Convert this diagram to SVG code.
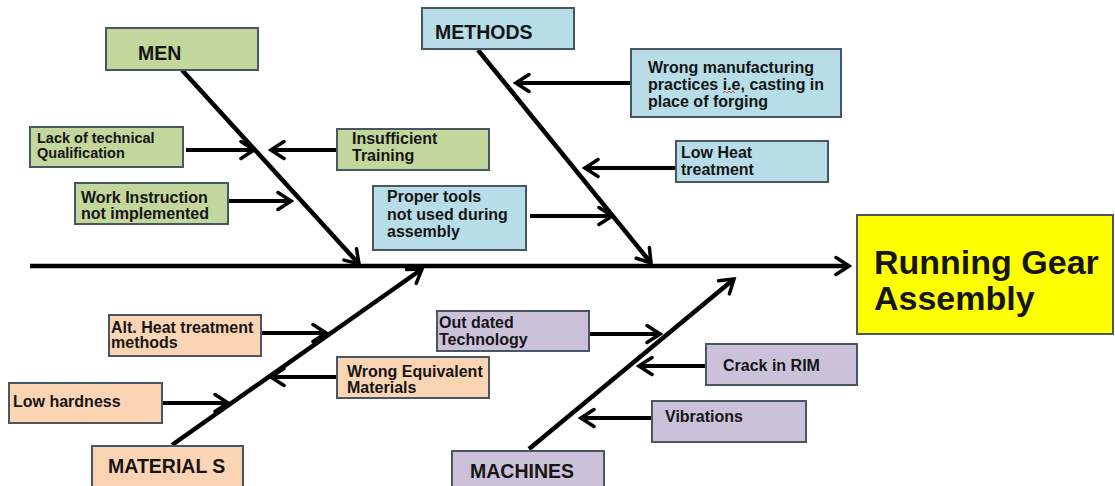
<svg xmlns="http://www.w3.org/2000/svg" width="1115" height="486" viewBox="0 0 1115 486">
<defs>
<style>
.box{stroke:#4a5763;stroke-width:2}
.g{fill:#c3d69b}.b{fill:#b7dde8}.o{fill:#fbd4b4}.p{fill:#ccc1da}.y{fill:#ffff00}
text{font-family:"Liberation Sans",Arial,sans-serif;font-weight:bold;fill:#151515}
.t{font-size:16px}
.h{font-size:19.5px}
.big{font-size:34px}
.c line{stroke:#000;stroke-width:4;marker-end:url(#ah)}
.c line.bone{stroke-width:4.5}
</style>
<marker id="ah" viewBox="-16 -11 19 22" refX="0" refY="0" markerWidth="19" markerHeight="22" markerUnits="userSpaceOnUse" orient="auto">
<path d="M-13,-8.5 L0,0 L-13,8.5" fill="none" stroke="#000" stroke-width="3.5" stroke-linecap="round" stroke-linejoin="miter"/>
</marker>
</defs>
<rect width="1115" height="486" fill="#fff"/>

<g id="connectors" class="c">
<line class="bone" x1="30" y1="266" x2="849" y2="266"/>
<line class="bone" x1="182" y1="70" x2="359" y2="264"/>
<line class="bone" x1="478" y1="50" x2="651" y2="263"/>
<line class="bone" x1="172" y1="445" x2="422" y2="269"/>
<line class="bone" x1="529" y1="449" x2="734" y2="279"/>
<line x1="186" y1="150" x2="254" y2="150"/>
<line x1="337" y1="150" x2="271" y2="150"/>
<line x1="228" y1="201" x2="291" y2="201"/>
<line x1="631" y1="83" x2="516" y2="83"/>
<line x1="676" y1="168" x2="585" y2="168"/>
<line x1="530" y1="216" x2="612" y2="216"/>
<line x1="262" y1="333" x2="326" y2="333"/>
<line x1="337" y1="377" x2="271" y2="377"/>
<line x1="162" y1="403" x2="228" y2="403"/>
<line x1="590" y1="334" x2="660" y2="334"/>
<line x1="706" y1="366" x2="639" y2="366"/>
<line x1="652" y1="418" x2="581" y2="418"/>
</g>

<g id="men"><rect class="box g" x="106" y="28" width="152" height="42"/><text class="h" x="138" y="60">MEN</text></g>
<g id="lack"><rect class="box g" x="30" y="127" width="153" height="40"/><text style="font-size:14.5px" x="37" y="143">Lack of technical</text><text style="font-size:14.5px" x="37" y="158">Qualification</text></g>
<g id="insufficient"><rect class="box g" x="337" y="129" width="152" height="41"/><text class="t" x="352" y="144">Insufficient</text><text class="t" x="352" y="161">Training</text></g>
<g id="work"><rect class="box g" x="75" y="183" width="153" height="41"/><text class="t" x="81" y="203">Work Instruction</text><text class="t" x="81" y="219">not implemented</text></g>

<g id="methods"><rect class="box b" x="422" y="8" width="152" height="41"/><text class="h" x="435" y="39">METHODS</text></g>
<g id="wrongmfg"><rect class="box b" x="631" y="49" width="210" height="68"/><text class="t" x="648" y="73">Wrong manufacturing</text><text class="t" x="648" y="90">practices i.e, casting in</text><text class="t" x="648" y="107">place of forging</text><path d="M723,93 l2,-2 l2,2 l2,-2 l2,2 l2,-2 l2,2" fill="none" stroke="#e03030" stroke-width="0.8"/></g>
<g id="lowheat"><rect class="box b" x="676" y="141" width="152" height="41"/><text class="t" x="681" y="158">Low Heat</text><text class="t" x="681" y="175">treatment</text></g>
<g id="tools"><rect class="box b" x="373" y="186" width="153" height="64"/><text class="t" x="387" y="202">Proper tools</text><text class="t" x="387" y="220">not used during</text><text class="t" x="387" y="237">assembly</text></g>

<g id="materials"><rect class="box o" x="92" y="446" width="151" height="42"/><text class="h" x="108" y="473">MATERIAL S</text></g>
<g id="altheat"><rect class="box o" x="109" y="315" width="152" height="41"/><text class="t" x="111" y="333">Alt. Heat treatment</text><text class="t" x="111" y="348">methods</text></g>
<g id="wrongeq"><rect class="box o" x="337" y="357" width="152" height="41"/><text class="t" x="347" y="377">Wrong Equivalent</text><text class="t" x="347" y="393">Materials</text></g>
<g id="lowhard"><rect class="box o" x="9" y="383" width="153" height="40"/><text class="t" x="13" y="407">Low hardness</text></g>

<g id="machines"><rect class="box p" x="452" y="451" width="152" height="40"/><text class="h" x="470" y="478">MACHINES</text></g>
<g id="outdated"><rect class="box p" x="437" y="311" width="152" height="40"/><text class="t" x="439" y="328">Out dated</text><text class="t" x="439" y="345">Technology</text></g>
<g id="crack"><rect class="box p" x="706" y="344" width="151" height="41"/><text class="t" x="723" y="371">Crack in RIM</text></g>
<g id="vibrations"><rect class="box p" x="652" y="401" width="154" height="41"/><text class="t" x="665" y="422">Vibrations</text></g>

<g id="effect"><rect class="box y" x="857" y="215" width="256" height="119"/><text class="big" x="874" y="274">Running Gear</text><text class="big" x="874" y="310">Assembly</text></g>
</svg>
